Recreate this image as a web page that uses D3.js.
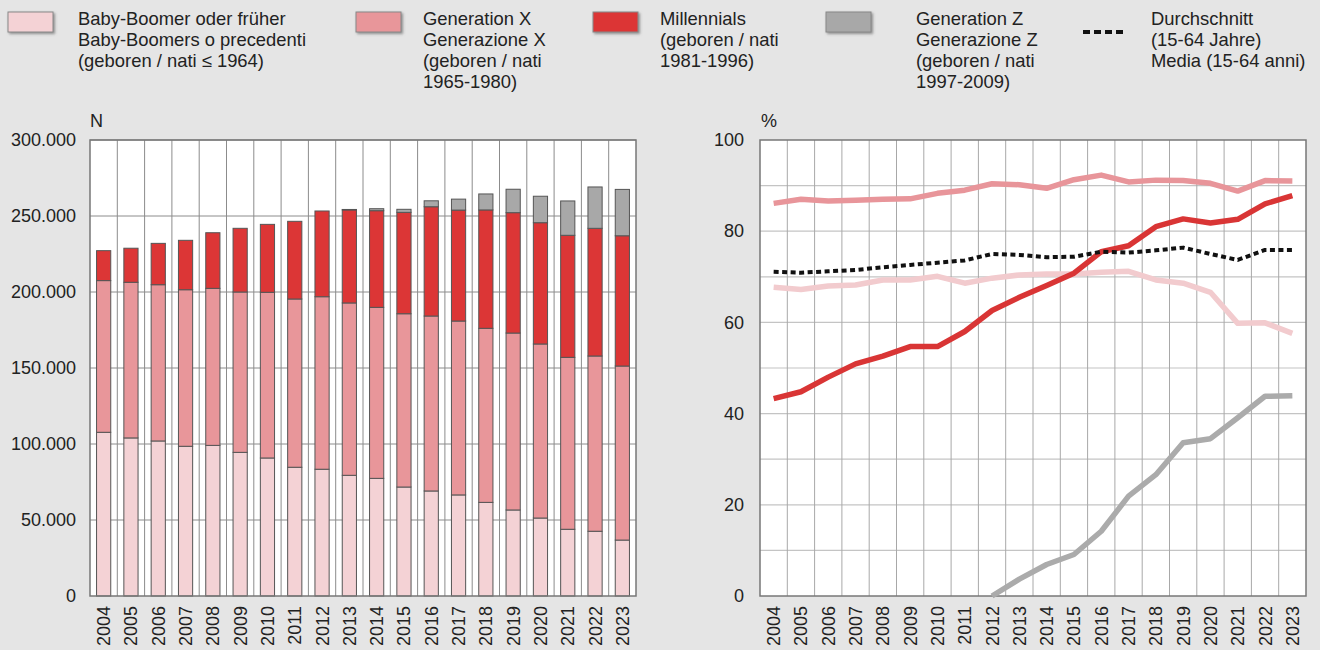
<!DOCTYPE html>
<html>
<head>
<meta charset="utf-8">
<script src="https://cdn.jsdelivr.net/npm/d3@7"></script>
<style>
  body { margin: 0; background: #e5e5e5; }
  svg { display: block; font-family: "Liberation Sans", Arial, sans-serif; }
  .tick text { fill: #222; }
</style>
</head>
<body>
<svg id="chart" width="1320" height="650"></svg>
<script>
// years on both charts
var years = ['2004','2005','2006','2007','2008','2009','2010','2011','2012','2013',
             '2014','2015','2016','2017','2018','2019','2020','2021','2022','2023'];

// employed persons (N), left chart
var boomersN     = [107700,104000,102000,98500,99100,94500,90800,84700,83400,79400,
                    77400,71700,69100,66500,61600,56600,51300,43900,42600,36800];
var genXN        = [99800,102400,102800,103000,103300,105500,109000,110700,113500,113400,
                    112500,114000,115100,114400,114500,116400,114500,113100,115300,114500];
var millennialsN = [19700,22400,27200,32500,36600,41900,44700,51100,56400,61200,
                    63600,66700,71900,73000,77900,79200,79800,80300,84000,85700];
var genZN        = [0,0,0,0,0,0,0,0,0,300,
                    1300,2000,3900,7200,10500,15400,17400,22600,27200,30500];

// employment rate (%), right chart
var boomersPct     = [67.7,67.2,68.0,68.2,69.3,69.3,70.1,68.6,69.7,70.4,
                      70.6,70.6,71.0,71.2,69.3,68.6,66.6,59.8,59.9,57.6];
var genXPct        = [86.1,87.0,86.6,86.8,87.0,87.1,88.3,89.0,90.4,90.2,
                      89.4,91.3,92.3,90.8,91.2,91.1,90.5,88.8,91.1,91.0];
var millennialsPct = [43.3,44.8,48.0,50.9,52.6,54.7,54.7,58.0,62.6,65.5,
                      68.1,70.8,75.5,76.8,81.0,82.7,81.8,82.6,86.0,87.8];
var genZPct        = [null,null,null,null,null,null,null,null,0,3.7,
                      6.9,9.1,14.2,21.9,26.6,33.6,34.5,39.1,43.8,43.9];
var averagePct     = [71.1,70.9,71.2,71.5,72.1,72.6,73.1,73.6,75.0,74.8,
                      74.3,74.4,75.5,75.3,75.8,76.4,75.0,73.7,75.9,75.9];

var barTicks = [0, 50000, 100000, 150000, 200000, 250000, 300000];
var pctTicks = [0, 20, 40, 60, 80, 100];

// legend texts, one entry per item
var legendLabels = [
  ['Baby-Boomer oder früher', 'Baby-Boomers o precedenti', '(geboren / nati ≤ 1964)'],
  ['Generation X', 'Generazione X', '(geboren / nati', '1965-1980)'],
  ['Millennials', '(geboren / nati', '1981-1996)'],
  ['Generation Z', 'Generazione Z', '(geboren / nati', '1997-2009)'],
  ['Durchschnitt', '(15-64 Jahre)', 'Media (15-64 anni)']
];

var colors = {
  boomers: '#f4d2d5',
  genX: '#e8969a',
  millennials: '#dc3636',
  genZ: '#a8a8a8'
};

var svg = d3.select('#chart');
svg.append('rect').attr('width', 1320).attr('height', 650).attr('fill', '#e5e5e5');

var locale = d3.formatLocale({ decimal: ',', thousands: '.', grouping: [3], currency: ['', ''] });
var fmtN = locale.format(',');

// ---------- legend ----------
var legendX = [8, 356, 593, 826, 1083];
var legendTextX = [78, 423, 660, 916, 1151];
var defs = svg.append('defs');
var sh = defs.append('filter').attr('id', 'shadow').attr('x', '-20%').attr('y', '-20%')
  .attr('width', '150%').attr('height', '160%');
sh.append('feDropShadow').attr('dx', 1.5).attr('dy', 1.5).attr('stdDeviation', 1)
  .attr('flood-color', '#555').attr('flood-opacity', 0.6);

var legendFills = [colors.boomers, colors.genX, colors.millennials, colors.genZ, null];
legendLabels.forEach(function (lines, i) {
  var g = svg.append('g');
  if (legendFills[i]) {
    g.append('rect')
      .attr('x', legendX[i]).attr('y', 12)
      .attr('width', 45).attr('height', 20)
      .attr('fill', legendFills[i])
      .attr('stroke', '#888').attr('stroke-width', 1)
      .attr('filter', 'url(#shadow)');
  } else {
    g.append('line')
      .attr('x1', legendX[i]).attr('x2', legendX[i] + 42)
      .attr('y1', 32).attr('y2', 32)
      .attr('stroke', '#111').attr('stroke-width', 4)
      .attr('stroke-dasharray', '7,4');
  }
  var t = g.append('text')
    .attr('x', legendTextX[i]).attr('y', 25)
    .attr('font-size', 18.4).attr('fill', '#222');
  lines.forEach(function (l, j) {
    t.append('tspan').attr('x', legendTextX[i]).attr('dy', j === 0 ? 0 : 21).text(l);
  });
});

// ---------- left: stacked bars ----------
var b = { left: 90, right: 636, top: 140, bottom: 596 };

var xBar = d3.scaleBand().domain(years).range([b.left, b.right]).padding(0);
var yBar = d3.scaleLinear().domain([0, 300000]).range([b.bottom, b.top]);

var gb = svg.append('g');
gb.append('rect')
  .attr('x', b.left).attr('y', b.top)
  .attr('width', b.right - b.left).attr('height', b.bottom - b.top)
  .attr('fill', '#fff');

// grid
gb.selectAll('.hgrid').data(barTicks.slice(1)).enter().append('line')
  .attr('x1', b.left).attr('x2', b.right)
  .attr('y1', function (d) { return yBar(d); })
  .attr('y2', function (d) { return yBar(d); })
  .attr('stroke', '#8c8c8c').attr('stroke-width', 1);
gb.selectAll('.vgrid').data(years.slice(1)).enter().append('line')
  .attr('x1', function (d) { return xBar(d); })
  .attr('x2', function (d) { return xBar(d); })
  .attr('y1', b.top).attr('y2', b.bottom)
  .attr('stroke', '#8c8c8c').attr('stroke-width', 1);

var table = years.map(function (y, i) {
  return { year: y, boomers: boomersN[i], genX: genXN[i], millennials: millennialsN[i], genZ: genZN[i] };
});
var keys = ['boomers', 'genX', 'millennials', 'genZ'];
var stack = d3.stack().keys(keys)(table);
var barW = xBar.bandwidth() * 0.52;

gb.selectAll('.series').data(stack).enter().append('g')
  .attr('fill', function (d) { return colors[d.key]; })
  .selectAll('rect')
  .data(function (d) { return d.filter(function (p) { return p[1] - p[0] > 0; }); })
  .enter().append('rect')
  .attr('x', function (d) { return xBar(d.data.year) + (xBar.bandwidth() - barW) / 2; })
  .attr('y', function (d) { return yBar(d[1]); })
  .attr('width', barW)
  .attr('height', function (d) { return yBar(d[0]) - yBar(d[1]); })
  .attr('stroke', '#555').attr('stroke-width', 1);

// frame
gb.append('rect')
  .attr('x', b.left).attr('y', b.top)
  .attr('width', b.right - b.left).attr('height', b.bottom - b.top)
  .attr('fill', 'none').attr('stroke', '#777').attr('stroke-width', 1.5);

var yAxisBar = d3.axisLeft(yBar).tickValues(barTicks).tickSize(0).tickPadding(14)
  .tickFormat(function (d) { return fmtN(d); });
gb.append('g').attr('transform', 'translate(' + b.left + ',0)').call(yAxisBar)
  .call(function (g) { g.select('.domain').remove(); })
  .selectAll('text').attr('font-size', 18).attr('font-family', '"Liberation Sans", Arial, sans-serif');

var xAxisBar = d3.axisBottom(xBar).tickSize(0);
gb.append('g').attr('transform', 'translate(0,' + b.bottom + ')').call(xAxisBar)
  .call(function (g) { g.select('.domain').remove(); })
  .selectAll('text')
  .attr('font-size', 18).attr('font-family', '"Liberation Sans", Arial, sans-serif')
  .attr('transform', 'rotate(-90)')
  .attr('x', -10).attr('y', 0).attr('dy', '0.36em')
  .style('text-anchor', 'end');

gb.append('text').attr('x', 90).attr('y', 127).attr('font-size', 18).attr('fill', '#222').text('N');

// ---------- right: lines ----------
var l = { left: 760, right: 1306, top: 140, bottom: 596 };

var xLine = d3.scaleBand().domain(years).range([l.left, l.right]).padding(0);
var yLine = d3.scaleLinear().domain([0, 100]).range([l.bottom, l.top]);

var gl = svg.append('g');
gl.append('rect')
  .attr('x', l.left).attr('y', l.top)
  .attr('width', l.right - l.left).attr('height', l.bottom - l.top)
  .attr('fill', '#fff');

gl.selectAll('.hgrid').data(d3.range(10, 100, 10)).enter().append('line')
  .attr('x1', l.left).attr('x2', l.right)
  .attr('y1', function (d) { return yLine(d); })
  .attr('y2', function (d) { return yLine(d); })
  .attr('stroke', '#c4c4c4').attr('stroke-width', 1.2);
gl.selectAll('.vgrid').data(years.slice(1)).enter().append('line')
  .attr('x1', function (d) { return xLine(d); })
  .attr('x2', function (d) { return xLine(d); })
  .attr('y1', l.top).attr('y2', l.bottom)
  .attr('stroke', '#a8a8a8').attr('stroke-width', 1);

gl.append('rect')
  .attr('x', l.left).attr('y', l.top)
  .attr('width', l.right - l.left).attr('height', l.bottom - l.top)
  .attr('fill', 'none').attr('stroke', '#777').attr('stroke-width', 1.5);

var line = d3.line()
  .defined(function (d) { return d.v !== null; })
  .x(function (d) { return xLine(d.year) + xLine.bandwidth() / 2; })
  .y(function (d) { return yLine(d.v); });

function series(arr) {
  return years.map(function (y, i) { return { year: y, v: arr[i] }; });
}

var lines = [
  { data: boomersPct, color: '#f2cbce', dash: null, w: 5.5 },
  { data: genXPct, color: '#e8959a', dash: null, w: 5.5 },
  { data: genZPct, color: '#ababab', dash: null, w: 5.5 },
  { data: millennialsPct, color: '#d93535', dash: null, w: 5.5 },
  { data: averagePct, color: '#111', dash: '5,3.5', w: 4 }
];
lines.forEach(function (s) {
  gl.append('path')
    .datum(series(s.data))
    .attr('d', line)
    .attr('fill', 'none')
    .attr('stroke', s.color)
    .attr('stroke-width', s.w)
    .attr('stroke-linejoin', 'round')
    .attr('stroke-dasharray', s.dash);
});

var yAxisLine = d3.axisLeft(yLine).tickValues(pctTicks).tickSize(0).tickPadding(16);
gl.append('g').attr('transform', 'translate(' + l.left + ',0)').call(yAxisLine)
  .call(function (g) { g.select('.domain').remove(); })
  .selectAll('text').attr('font-size', 18).attr('font-family', '"Liberation Sans", Arial, sans-serif');

var xAxisLine = d3.axisBottom(xLine).tickSize(0);
gl.append('g').attr('transform', 'translate(0,' + l.bottom + ')').call(xAxisLine)
  .call(function (g) { g.select('.domain').remove(); })
  .selectAll('text')
  .attr('font-size', 18).attr('font-family', '"Liberation Sans", Arial, sans-serif')
  .attr('transform', 'rotate(-90)')
  .attr('x', -10).attr('y', 0).attr('dy', '0.36em')
  .style('text-anchor', 'end');

gl.append('text').attr('x', 761).attr('y', 127).attr('font-size', 18).attr('fill', '#222').text('%');
</script>
</body>
</html>
